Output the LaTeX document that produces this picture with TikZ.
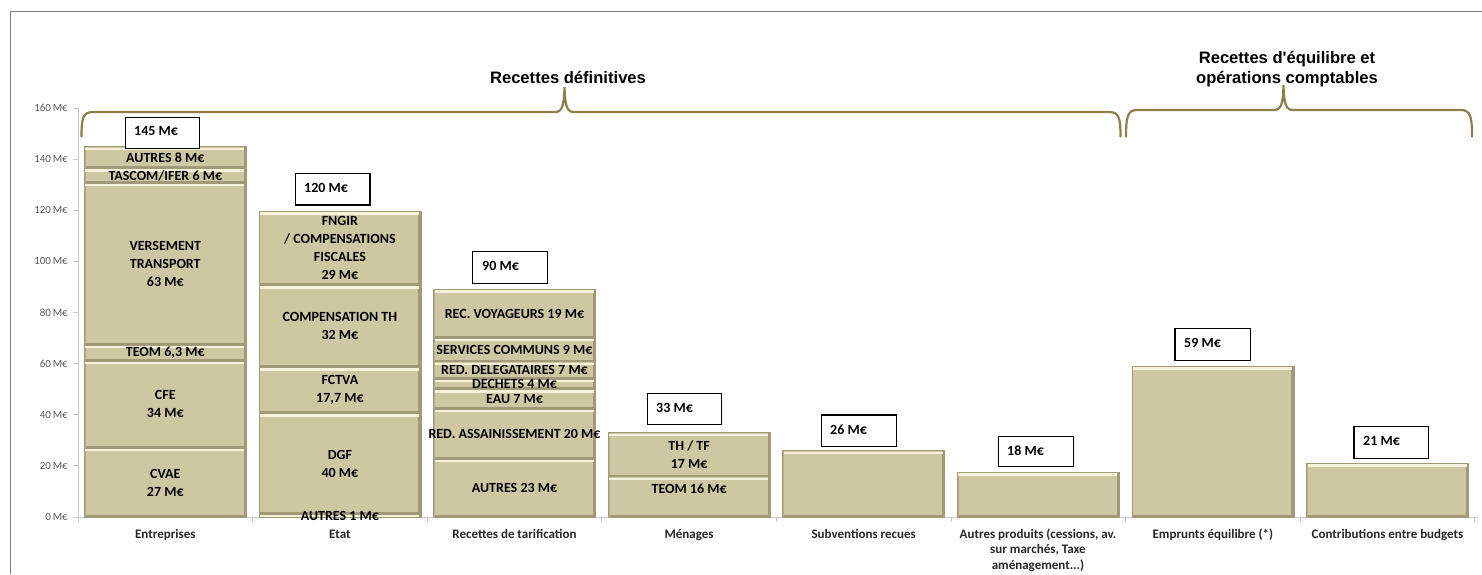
\documentclass[tikz,border=0pt]{standalone}
\usepackage{fontspec}
\setmainfont{Carlito}
\newfontfamily\headfont{Liberation Sans}
\definecolor{barfill}{RGB}{206,200,162}
\definecolor{barhi}{RGB}{247,243,218}
\definecolor{barsh}{RGB}{160,154,120}
\definecolor{bracecol}{RGB}{140,127,74}
\definecolor{axiscol}{RGB}{200,200,200}
\definecolor{framecol}{RGB}{128,128,128}
\definecolor{axistext}{RGB}{89,89,89}
\definecolor{cattext}{RGB}{38,38,38}
\pgfdeclarelayer{fg}
\pgfsetlayers{main,fg}
\tikzset{
  seglabel/.style={font=\bfseries\fontsize{14}{18}\selectfont, align=center, text=black, inner sep=0pt},
  totbox/.style={draw=black, line width=1.1pt, fill=white},
  totlabel/.style={font=\bfseries\fontsize{14}{18}\selectfont, anchor=west, inner sep=0pt},
  axislabel/.style={font=\fontsize{11}{13}\selectfont, text=axistext, anchor=east, inner sep=0pt},
  catlabel/.style={font=\bfseries\fontsize{13}{15.5}\selectfont, text=cattext, align=center, inner sep=0pt},
  bracestyle/.style={draw=bracecol, line width=2.2pt, line cap=round},
  headlabel/.style={font=\headfont\bfseries\fontsize{16.6}{20}\selectfont, align=center, inner sep=0pt}
}
\newcommand\chartseg[5]{%
  \pgfmathsetmacro\ya{517-#3*2.556}%
  \pgfmathsetmacro\yb{517-#4*2.556}%
  \fill[barfill] (#2-81,\ya) rectangle (#2+81,\yb);
  \fill[barsh] (#2-81,\ya) rectangle (#2+81,\ya-2);
  \fill[barsh] (#2+81,\ya) rectangle (#2+78.5,\yb);
  \fill[barsh!60!barfill] (#2-81,\ya) rectangle (#2-79.5,\yb);
  \fill[barhi] (#2-80,\yb+1) rectangle (#2+79,\yb+3.5);
  \draw[barsh, line width=0.6pt] (#2-81,\ya) rectangle (#2+81,\yb);
  \begin{pgfonlayer}{fg}
  \node[seglabel] (#1) at (#2,{(\ya+\yb)/2}) {#5};
  \end{pgfonlayer}
}
\begin{document}
\begin{tikzpicture}[x=1pt,y=-1pt]
\useasboundingbox (0,0) rectangle (1482,574);
% frame
\draw[framecol, line width=0.9pt] (10,574) -- (10,11) -- (1482,11);
% axes
\draw[axiscol, line width=0.8pt] (78,108) -- (78,517) -- (1478,517);
\foreach \v in {0,20,...,160} {
  \draw[axiscol, line width=0.8pt] (73,{517-\v*2.556}) -- (78,{517-\v*2.556});
  \node[axislabel] (ax\v) at (68,{517-\v*2.556}) {\v\,M€};
}
\foreach \k in {0,...,8} {
  \draw[axiscol, line width=0.8pt] ({78+174.6*\k},517) -- ({78+174.6*\k},522);
}
% Entreprises
\chartseg{e1}{165.3}{0}{27}{CVAE\\27 M€}
\chartseg{e2}{165.3}{27}{61.1}{CFE\\34 M€}
\chartseg{e3}{165.3}{61.1}{67.3}{TEOM 6,3 M€}
\chartseg{e4}{165.3}{67.3}{130.7}{VERSEMENT\\TRANSPORT\\63 M€}
\chartseg{e5}{165.3}{130.7}{136.4}{TASCOM/IFER 6 M€}
\chartseg{e6}{165.3}{136.4}{144.9}{AUTRES 8 M€}
% Etat
\chartseg{s1}{339.9}{0}{1}{AUTRES 1 M€}
\chartseg{s2}{339.9}{1}{40.6}{DGF\\40 M€}
\chartseg{s3}{339.9}{40.6}{58.6}{FCTVA\\17,7 M€}
\chartseg{s4}{339.9}{58.6}{90.7}{COMPENSATION TH\\32 M€}
\chartseg{s5}{339.9}{90.7}{119.7}{FNGIR\\/ COMPENSATIONS\\FISCALES\\29 M€}
% Recettes de tarification
\chartseg{r1}{514.5}{0}{22.7}{AUTRES 23 M€}
\chartseg{r2}{514.5}{22.7}{42.3}{RED. ASSAINISSEMENT 20 M€}
\chartseg{r3}{514.5}{42.3}{50}{EAU 7 M€}
\chartseg{r4}{514.5}{50}{54}{DECHETS 4 M€}
\chartseg{r5}{514.5}{54}{60.8}{RED. DELEGATAIRES 7 M€}
\chartseg{r6}{514.5}{60.8}{70.1}{SERVICES COMMUNS 9 M€}
\chartseg{r7}{514.5}{70.1}{89.1}{REC. VOYAGEURS 19 M€}
% Menages
\chartseg{m1}{689.1}{0}{15.8}{}
\node[seglabel] (m1lab) at (689.1,488.5) {TEOM 16 M€};
\chartseg{m2}{689.1}{15.8}{33}{TH / TF\\17 M€}
% single bars
\chartseg{sub}{863.7}{0}{26}{}
\chartseg{aut}{1038.3}{0}{17.6}{}
\chartseg{emp}{1212.9}{0}{59}{}
\chartseg{con}{1387.5}{0}{21}{}
% total boxes
\draw[totbox] (125.3,117.3) rectangle (199.3,148.7);
\node[totlabel] (t145) at (134,131) {145 M€};
\draw[totbox] (295.7,173.3) rectangle (370,205);
\node[totlabel] (t120) at (304,187.5) {120 M€};
\draw[totbox] (472.7,251.7) rectangle (547.3,283.3);
\node[totlabel] (t90) at (482,266) {90 M€};
\draw[totbox] (647.7,393.3) rectangle (721.7,424.3);
\node[totlabel] (t33) at (656,407.5) {33 M€};
\draw[totbox] (821.7,415) rectangle (896.7,446.7);
\node[totlabel] (t26) at (830,429.5) {26 M€};
\draw[totbox] (998.3,436.7) rectangle (1073.3,466.7);
\node[totlabel] (t18) at (1007,450.5) {18 M€};
\draw[totbox] (1175,328.3) rectangle (1250.7,360.7);
\node[totlabel] (t59) at (1184,343) {59 M€};
\draw[totbox] (1354,426.7) rectangle (1428.3,458.3);
\node[totlabel] (t21) at (1363,441) {21 M€};
% category labels
\node[catlabel, anchor=base] (c1) at (165.3,538.5) {Entreprises};
\node[catlabel, anchor=base] (c2) at (339.9,538.5) {Etat};
\node[catlabel, anchor=base] (c3) at (514.5,538.5) {Recettes de tarification};
\node[catlabel, anchor=base] (c4) at (689.1,538.5) {Ménages};
\node[catlabel, anchor=base] (c5) at (863.7,538.5) {Subventions recues};
\node[catlabel, anchor=north] (c6) at (1038,528.5) {Autres produits (cessions, av.\\sur marchés, Taxe\\aménagement...)};
\node[catlabel, anchor=base] (c7) at (1212.9,538.5) {Emprunts équilibre (*)};
\node[catlabel, anchor=base] (c8) at (1387.5,538.5) {Contributions entre budgets};
% braces
\draw[bracestyle] (81.5,136.5) .. controls (81.5,118) and (83,112) .. (93,112)
  -- (555,112) .. controls (562,112) and (564,106) .. (564.5,87)
  .. controls (565,106) and (567,112) .. (574,112)
  -- (1109,112) .. controls (1119,112) and (1120.5,118) .. (1120.5,136.5);
\draw[bracestyle] (1126,136.5) .. controls (1126,117) and (1127.5,110) .. (1137,110)
  -- (1274,110) .. controls (1281,110) and (1283,104) .. (1283.5,85)
  .. controls (1284,104) and (1286,110) .. (1293,110)
  -- (1461,110) .. controls (1470.5,110) and (1472,117) .. (1472,136.5);
% headings
\node[headlabel] (h1) at (568,77) {Recettes définitives};
\node[headlabel] (h2) at (1287,69.5) {Recettes d'équilibre et\\opérations comptables};
\end{tikzpicture}
\end{document}
